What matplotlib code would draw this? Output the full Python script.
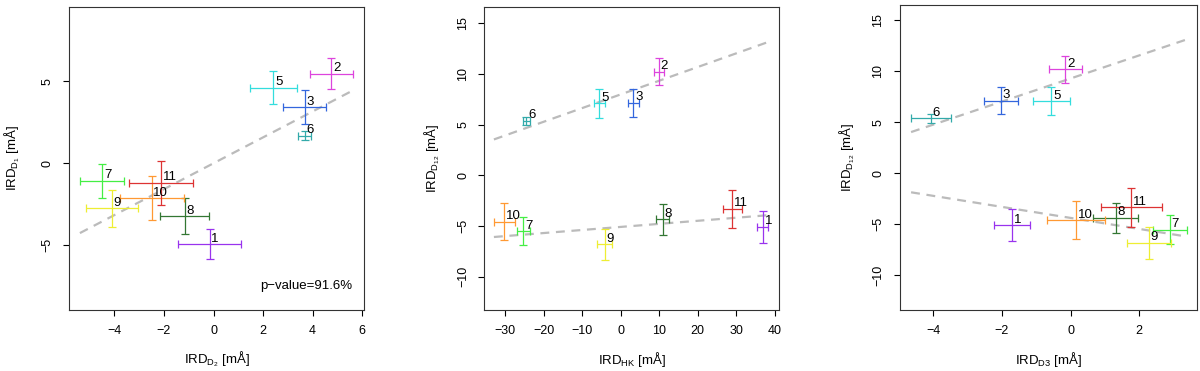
import matplotlib
matplotlib.use("Agg")
import matplotlib.pyplot as plt
import numpy as np

plt.rcParams['font.family'] = ['Liberation Sans', 'DejaVu Sans']
plt.rcParams['mathtext.fontset'] = 'custom'
plt.rcParams['mathtext.rm'] = 'Liberation Sans'
plt.rcParams['font.size'] = 9

# numeros de las estrellas (no hay 4)
ids = [1, 2, 3, 5, 6, 7, 8, 9, 10, 11]
colores = ['#9933ee', '#dd44dd', '#3366dd', '#33dddd', '#33aaaa',
           '#44ee44', '#337733', '#eeee33', '#ff9933', '#dd3333']

# IRD_D2 (eje x panel 1) e IRD_D1 (eje y panel 1)
ird_d2 = [-0.16, 4.76, 3.68, 2.41, 3.68, -4.49, -1.17, -4.11, -2.50, -2.11]
ird_d2_err = [1.26, 0.87, 0.87, 0.95, 0.27, 0.89, 1.00, 1.05, 1.29, 1.28]
ird_d1 = [-4.94, 5.45, 3.41, 4.61, 1.67, -1.08, -3.23, -2.74, -2.13, -1.20]
ird_d1_err = [0.91, 0.95, 1.03, 1.00, 0.28, 1.02, 1.10, 1.13, 1.34, 1.35]

# IRD_HK, IRD_D3 e IRD_D12
ird_hk = [36.9, 9.85, 3.26, -5.58, -24.5, -25.3, 10.9, -4.18, -30.3, 29.0]
ird_hk_err = [1.43, 1.34, 1.39, 1.39, 1.0, 1.69, 1.73, 2.0, 2.73, 2.43]
ird_d3 = [-1.71, -0.15, -2.02, -0.56, -4.08, 2.90, 1.32, 2.29, 0.16, 1.77]
ird_d3_err = [0.535, 0.49, 0.50, 0.53, 0.58, 0.50, 0.66, 0.64, 0.84, 0.89]
ird_d12 = [-5.11, 10.20, 7.13, 7.08, 5.38, -5.51, -4.36, -6.83, -4.59, -3.33]
ird_d12_err = [1.57, 1.32, 1.34, 1.40, 0.41, 1.40, 1.50, 1.53, 1.85, 1.90]

# rectas de ajuste: (ordenada, pendiente, x_min, x_max)
ajuste_1 = [(0.0, 0.79, -5.39, 5.69)]
ajuste_2 = [(7.98, 0.135, -32.96, 37.93), (-5.10, 0.0302, -32.96, 37.93)]
ajuste_3 = [(9.30, 1.13, -4.65, 3.35), (-4.37, -0.54, -4.65, 3.35)]

p_valor = 'p\u2212value=91.6%'

fig = plt.figure(figsize=(12, 3.71), dpi=100)

def panel(pos, x, xe, y, ye, ajustes, xlim, ylim, xticks, yticks, xlab, ylab, ylab_x):
    ax = fig.add_axes(pos)
    for (a, b, x0, x1) in ajustes:
        xx = np.array([x0, x1])
        ax.plot(xx, a + b * xx, ls=(0, (4, 3)), color='#bbbbbb', lw=1.6, zorder=1)
    for i in range(len(ids)):
        ax.errorbar(x[i], y[i], xerr=xe[i], yerr=ye[i], fmt='none',
                    ecolor=colores[i], elinewidth=0.9, capsize=2.8, capthick=0.9, zorder=2)
        ax.annotate(str(ids[i]), (x[i], y[i]), xytext=(1.2, 4.0), textcoords='offset points',
                    ha='left', va='center', fontsize=9.5, zorder=3)
    ax.set_xlim(xlim)
    ax.set_ylim(ylim)
    ax.set_xticks(xticks)
    ax.set_yticks(yticks)
    ax.tick_params(direction='out', length=4, width=0.8, pad=7, labelsize=9)
    for lab in ax.get_yticklabels():
        lab.set_rotation(90)
        lab.set_va('center')
    for s in ax.spines.values():
        s.set_linewidth(0.8)
        s.set_color('#333333')
    ax.set_xlabel(xlab, va='center', fontsize=9.5)
    ax.xaxis.set_label_coords(0.5, -49 / 303)
    ax.set_ylabel(ylab, va='center', fontsize=9.5)
    ax.yaxis.set_label_coords(ylab_x, 0.5)
    return ax

ax1 = panel([0.0575, 0.1644, 0.2458, 0.8167], ird_d2, ird_d2_err, ird_d1, ird_d1_err, ajuste_1,
            (-5.83, 6.07), (-8.95, 9.53), [-4, -2, 0, 2, 4, 6], [-5, 0, 5],
            r'IRD$_{\mathregular{D_{2}}}$ [mÅ]', r'IRD$_{\mathregular{D_{1}}}$ [mÅ]', -57 / 295)
ax1.text(0.96, 0.08, p_valor, transform=ax1.transAxes, ha='right', va='center', fontsize=9.5)

panel([0.4036, 0.1644, 0.2456, 0.8167], ird_hk, ird_hk_err, ird_d12, ird_d12_err, ajuste_2,
      (-35.45, 41.1), (-13.3, 16.6), [-30, -20, -10, 0, 10, 20, 30, 40], [-10, -5, 0, 5, 10, 15],
      r'IRD$_{\mathregular{HK}}$ [mÅ]', r'IRD$_{\mathregular{D_{12}}}$ [mÅ]', -52 / 295)

panel([0.7498, 0.1644, 0.2475, 0.8220], ird_d3, ird_d3_err, ird_d12, ird_d12_err, ajuste_3,
      (-4.98, 3.68), (-13.4, 16.5), [-4, -2, 0, 2], [-10, -5, 0, 5, 10, 15],
      r'IRD$_{\mathregular{D3}}$ [mÅ]', r'IRD$_{\mathregular{D_{12}}}$ [mÅ]', -53 / 297)

fig.savefig('out.png', dpi=100)
